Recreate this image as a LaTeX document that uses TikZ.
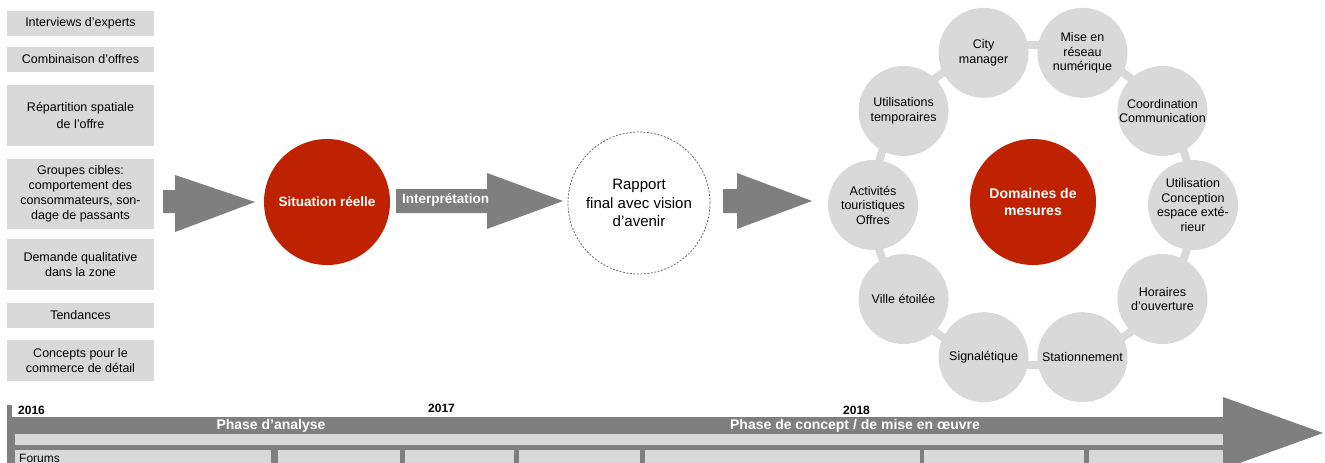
\documentclass[tikz,border=0pt]{standalone}
\usepackage{fontspec}
\setmainfont{Liberation Sans}
\definecolor{lg}{HTML}{D9D9D9}
\definecolor{dg}{HTML}{7F7F7F}
\definecolor{rd}{HTML}{BE2200}
\definecolor{dashc}{HTML}{6A6A6A}
\begin{document}
\begin{tikzpicture}[x=1pt,y=-1pt,
  box/.style={fill=lg, minimum width=147pt, inner sep=0pt, align=center, font=\fontsize{12.5}{15}\selectfont},
  gc/.style={circle, fill=lg, minimum size=90pt, inner sep=0pt, align=center, font=\fontsize{12.5}{14.5}\selectfont},
  rc/.style={circle, fill=rd, minimum size=126pt, inner sep=0pt, align=center, text=white, font=\fontsize{13.5}{16}\selectfont\bfseries},
  blk/.style={fill=dg},
  tl/.style={fill=lg, inner sep=0pt, anchor=north west},
  yr/.style={font=\fontsize{12}{12}\selectfont\bfseries, inner sep=0pt},
  ph/.style={font=\fontsize{14}{14}\selectfont\bfseries, text=white, inner sep=0pt}]
\useasboundingbox (0,0) rectangle (1325,463);
\clip (0,0) rectangle (1325,463);

% left boxes
\node[box, minimum height=25pt] (b1) at (80.5,23.5) {Interviews d'experts};
\node[box, minimum height=25pt] (b2) at (80.5,59.5) {Combinaison d'offres};
\node[box, minimum height=61pt, font=\fontsize{12.5}{17}\selectfont] (b3) at (80.5,115.5) {Répartition spatiale\\de l'offre};
\node[box, minimum height=70pt] (b4) at (80.5,194) {Groupes cibles:\\comportement des\\consommateurs, son-\\dage de passants};
\node[box, minimum height=51pt] (b5) at (80.5,264.5) {Demande qualitative\\dans la zone};
\node[box, minimum height=25pt] (b6) at (80.5,315.5) {Tendances};
\node[box, minimum height=41pt] (b7) at (80.5,360.5) {Concepts pour le\\commerce de détail};

% block arrow 1
\fill[blk] (163,190) -- (175,190) -- (175,175) -- (255,202) -- (175,232) -- (175,213) -- (163,213) -- cycle;

% situation reelle
\node[rc] (sit) at (327,202) {Situation réelle};

% interpretation arrow
\fill[blk] (396,189) -- (487,189) -- (487,173) -- (563,201) -- (487,229) -- (487,213) -- (396,213) -- cycle;
\node[anchor=west, inner sep=0pt, text=white, font=\fontsize{13.5}{14}\selectfont\bfseries] (interp) at (402,200) {Interprétation};

% rapport
\node[circle, draw=dashc, dash pattern=on 2pt off 1.5pt, line width=0.8pt, minimum size=142pt, inner sep=0pt, align=center, font=\fontsize{15}{18.5}\selectfont] (rap) at (639,203) {Rapport\\final avec vision\\d'avenir};

% arrow 3
\fill[blk] (723,189) -- (737,189) -- (737,173) -- (812,201) -- (737,229) -- (737,213) -- (723,213) -- cycle;

% ring
\coordinate (rc0) at (1033,205);
\draw[lg, line width=8pt] (rc0) circle[radius=160];
\node[gc] (c1) at ({1033+160*sin(-18)},{205-160*cos(-18)}) {City\\manager};
\node[gc] (c2) at ({1033+160*sin(18)},{205-160*cos(18)}) {Mise en\\réseau\\numérique};
\node[gc] (c3) at ({1033+160*sin(54)},{205-160*cos(54)}) {Coordination\\Communication};
\node[gc] (c4) at ({1033+160*sin(90)},{205-160*cos(90)}) {Utilisation\\Conception\\espace exté-\\rieur};
\node[gc] (c5) at ({1033+160*sin(126)},{205-160*cos(126)}) {Horaires\\d'ouverture};
\node[gc] (c6) at ({1033+160*sin(162)},{205-160*cos(162)}) {Stationnement};
\node[gc] (c7) at ({1033+160*sin(198)},{205-160*cos(198)}) {Signalétique};
\node[gc] (c8) at ({1033+160*sin(234)},{205-160*cos(234)}) {Ville étoilée};
\node[gc] (c9) at ({1033+160*sin(270)},{205-160*cos(270)}) {Activités\\touristiques\\Offres};
\node[gc] (c10) at ({1033+160*sin(306)},{205-160*cos(306)}) {Utilisations\\temporaires};
\node[rc, font=\fontsize{14}{17}\selectfont\bfseries] (dom) at (1033,202) {Domaines de\\mesures};

% timeline
\fill[dg] (7,405) rectangle (12,463);
\fill[dg] (7,417) rectangle (1223,470);
\fill[dg] (1223,397) -- (1323,433) -- (1223,469) -- cycle;
\fill[lg] (15,434) rectangle (1223,445);
\node[tl, minimum width=256pt, minimum height=20pt] (t1) at (15,450) {};
\node[tl, minimum width=122pt, minimum height=20pt] (t2) at (278,450) {};
\node[tl, minimum width=109pt, minimum height=20pt] (t3) at (405,450) {};
\node[tl, minimum width=121pt, minimum height=20pt] (t4) at (519,450) {};
\node[tl, minimum width=275pt, minimum height=20pt] (t5) at (645,450) {};
\node[tl, minimum width=160pt, minimum height=20pt] (t6) at (924,450) {};
\node[tl, minimum width=134pt, minimum height=20pt] (t7) at (1089,450) {};
\node[anchor=north west, inner sep=0pt, font=\fontsize{12}{12}\selectfont] (forums) at (19,454) {Forums};

\node[yr, anchor=west] (y16) at (18,410) {2016};
\node[yr, anchor=west] (y17) at (428,408) {2017};
\node[yr, anchor=west] (y18) at (843,410) {2018};
\node[ph] (p1) at (271,426) {Phase d'analyse};
\node[ph] (p2) at (855,426) {Phase de concept / de mise en œuvre};
\end{tikzpicture}
\end{document}
